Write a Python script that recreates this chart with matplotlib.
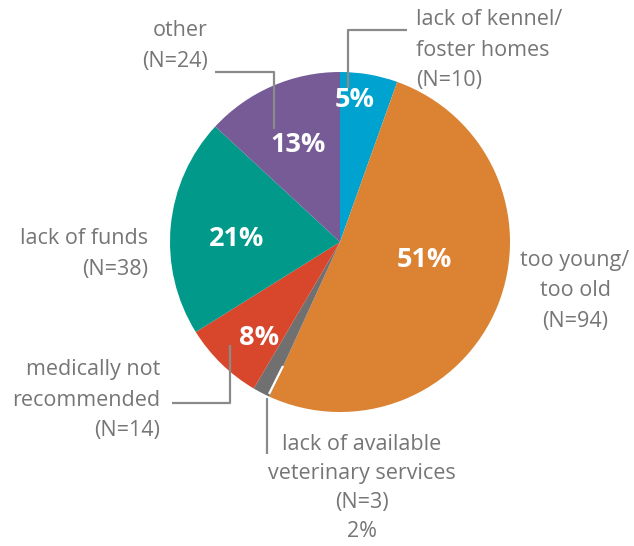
import matplotlib.pyplot as plt
import numpy as np

reasons = ["lack of kennel/\nfoster homes\n(N=10)", "too young/\ntoo old\n(N=94)",
           "lack of available\nveterinary services\n(N=3)\n2%", "medically not\nrecommended\n(N=14)",
           "lack of funds\n(N=38)", "other\n(N=24)"]
counts = [10, 94, 3, 14, 38, 24]
pct_labels = ["5%", "51%", "", "8%", "21%", "13%"]
colors = ["#00a3cf", "#dc8233", "#707070", "#d8472c", "#00998a", "#775b97"]

W, H = 634, 546
fig = plt.figure(figsize=(W / 100, H / 100), dpi=100)
ax = fig.add_axes([0, 0, 1, 1])

cx, cy, r = 340, 242, 170
# pie in a flipped y axis: counterclock=True draws clockwise on screen
wedges, _ = ax.pie(counts, colors=colors, startangle=-90, counterclock=True,
                   center=(cx, cy), radius=r, frame=True,
                   wedgeprops=dict(linewidth=0))
ax.set_xlim(0, W)
ax.set_ylim(H, 0)
ax.set_aspect("equal")
ax.axis("off")

font = "Open Sans"
grey = "#767676"
line_c = "#8a8a8a"

# percent labels inside slices (distance / angle tweak per slice)
pct_pos = [(0.84, -4), (0.51, -10), (0, 0), (0.74, -4), (0.61, -4), (0.62, 0)]
for w, lab, (d, da) in zip(wedges, pct_labels, pct_pos):
    if not lab:
        continue
    ang = np.deg2rad((w.theta1 + w.theta2) / 2 + da)
    x = cx + d * r * np.cos(ang)
    y = cy + d * r * np.sin(ang)
    ax.text(x, y, lab, color="white", fontsize=19.5, fontweight="bold",
            family=font, ha="center", va="center")

# outer labels: x, y, alignment, line spacing
label_pos = [(416, 50, "left", 1.62), (575, 291, "center", 1.62),
             (362, 488, "center", 1.5), (160, 400, "right", 1.62),
             (148, 254, "right", 1.62), (208, 46, "right", 1.62)]
for txt, (x, y, ha, ls) in zip(reasons, label_pos):
    ax.text(x, y, txt, color=grey, fontsize=15.5, family=font, ha=ha,
            va="center", linespacing=ls, multialignment=ha)

# leader lines
lw = 1.6
ax.plot([348, 348, 407], [88, 30, 30], color=line_c, lw=lw, solid_capstyle="butt")
ax.plot([215, 274, 274], [72, 72, 129], color=line_c, lw=lw, solid_capstyle="butt")
ax.plot([172, 230, 230], [403, 403, 345], color=line_c, lw=lw, solid_capstyle="butt")
ax.plot([283, 269], [366, 394], color="white", lw=lw, solid_capstyle="butt")
ax.plot([267, 267], [398, 454], color=line_c, lw=lw, solid_capstyle="butt")

fig.savefig("out.png", dpi=100)
